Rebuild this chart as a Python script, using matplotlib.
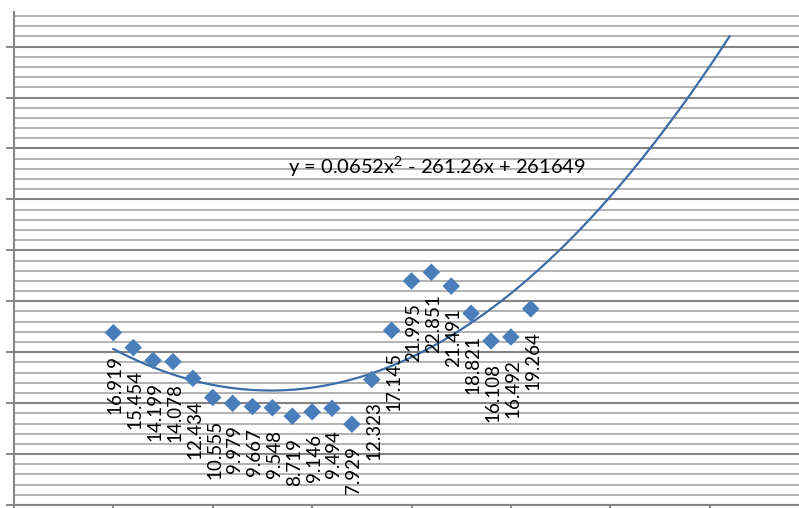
import numpy as np
import matplotlib
matplotlib.use("Agg")
import matplotlib.pyplot as plt
from matplotlib.ticker import MultipleLocator, NullFormatter

# data: yearly values, 1995-2016
years = list(range(1995, 2017))
values = [16.919, 15.454, 14.199, 14.078, 12.434, 10.555, 9.979, 9.667,
          9.548, 8.719, 9.146, 9.494, 7.929, 12.323, 17.145, 21.995,
          22.851, 21.491, 18.821, 16.108, 16.492, 19.264]
labels = ["16.919", "15.454", "14.199", "14.078", "12.434", "10.555",
          "9.979", "9.667", "9.548", "8.719", "9.146", "9.494", "7.929",
          "12.323", "17.145", "21.995", "22.851", "21.491", "18.821",
          "16.108", "16.492", "19.264"]
trend_end = 2026
equation = "y = 0.0652x$^2$ - 261.26x + 261649"

plt.rcParams["font.family"] = ["Lato", "DejaVu Sans"]
plt.rcParams["mathtext.default"] = "regular"

W, H = 799, 508
fig = plt.figure(figsize=(W / 100, H / 100), dpi=100)
# plot area in pixels: left 14, right ~809 (cut off), top 12, bottom 505
ax = fig.add_axes([14 / W, 3 / H, (809 - 14) / W, (505 - 12) / H])

ax.set_xlim(1990, 2030)
ax.set_ylim(0, 48.4)

# gridlines, Excel style
ax.yaxis.set_major_locator(MultipleLocator(5))
ax.yaxis.set_minor_locator(MultipleLocator(1))
ax.xaxis.set_major_locator(MultipleLocator(5))
ax.grid(which="minor", axis="y", color="#adadad", linewidth=1.3)
ax.grid(which="major", axis="y", color="#838383", linewidth=1.5)
ax.set_axisbelow(True)

ax.xaxis.set_major_formatter(NullFormatter())
ax.yaxis.set_major_formatter(NullFormatter())
ax.tick_params(axis="y", which="major", direction="out", length=6,
               width=1.4, color="#878787")
ax.tick_params(axis="y", which="minor", length=0)
ax.tick_params(axis="x", which="major", direction="out", length=6,
               width=1.4, color="#878787")

for side in ["top", "right"]:
    ax.spines[side].set_visible(False)
for side in ["left", "bottom"]:
    ax.spines[side].set_color("#878787")
    ax.spines[side].set_linewidth(1.5)

# polynomial trend line (order 2), forecast forward
coef = np.polyfit(years, values, 2)
xs = np.linspace(years[0], trend_end, 300)
ax.plot(xs, np.polyval(coef, xs), color="#3c6ca8", linewidth=1.6, zorder=3)

ax.scatter(years, values, marker="D", s=80, color="#4a7ebb",
           edgecolors="none", zorder=4)

for x, y, lab in zip(years, values, labels):
    ax.annotate(lab, (x, y), xytext=(2, -22), textcoords="offset pixels",
                rotation=90, ha="center", va="top", fontsize=13.5,
                color="black", zorder=5)

ax.text(2011.3, 33.2, equation, ha="center", va="center", fontsize=14.5,
        color="black", zorder=5)

fig.savefig("out.png", dpi=100)
